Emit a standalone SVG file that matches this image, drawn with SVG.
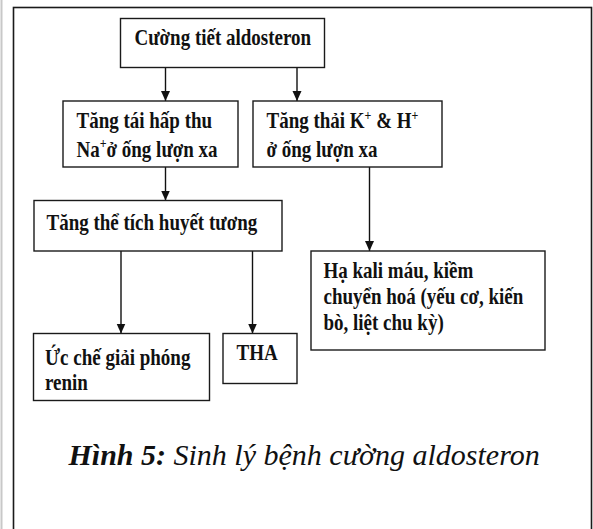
<svg xmlns="http://www.w3.org/2000/svg" width="593" height="529" viewBox="0 0 593 529">
<defs>
<style>
.bx{fill:#fff;stroke:#1a1a1a;stroke-width:1.4}
.t{font-family:"Liberation Serif","Times New Roman",serif;font-weight:bold;font-size:19px;fill:#111}
.sup{font-size:12px}
.cn{stroke:#111;stroke-width:1.4;fill:none;marker-end:url(#ah)}
.cap{font-family:"Liberation Serif","Times New Roman",serif;font-style:italic;font-size:30px;fill:#111}
</style>
<marker id="ah" markerUnits="userSpaceOnUse" markerWidth="10" markerHeight="10" refX="10" refY="4.5" orient="auto">
<path d="M0,0 L10,4.5 L0,9 z" fill="#111"/>
</marker>
</defs>
<rect x="0" y="0" width="593" height="529" fill="#fff"/>
<line x1="1.5" y1="0" x2="1.5" y2="529" stroke="#c8c8c8" stroke-width="2"/>
<rect x="13.5" y="7.5" width="578" height="540" fill="none" stroke="#1a1a1a" stroke-width="1.6"/>

<g id="connectors">
<line class="cn" x1="165.5" y1="67.5" x2="165.5" y2="101"/>
<line class="cn" x1="297" y1="67.5" x2="297" y2="101"/>
<line class="cn" x1="165.5" y1="167" x2="165.5" y2="200.5"/>
<line class="cn" x1="369.5" y1="167" x2="369.5" y2="251"/>
<line class="cn" x1="121" y1="251" x2="121" y2="333.5"/>
<line class="cn" x1="252.5" y1="251" x2="252.5" y2="333.5"/>
</g>

<g id="n1">
<rect class="bx" x="120.5" y="18.5" width="204" height="49"/>
<text class="t" transform="translate(134.5,45) scale(1,1.2)">Cường tiết aldosteron</text>
</g>
<g id="n2">
<rect class="bx" x="63" y="101" width="175" height="66"/>
<text class="t" transform="translate(76.5,128) scale(1,1.2)">Tăng tái hấp thu</text>
<text class="t" transform="translate(76.5,156.5) scale(1,1.2)">Na<tspan class="sup" dy="-7">+</tspan><tspan dy="7">ở ống lượn xa</tspan></text>
</g>
<g id="n3">
<rect class="bx" x="253" y="101" width="189" height="66"/>
<text class="t" transform="translate(266.5,128) scale(1,1.2)">Tăng thải K<tspan class="sup" dy="-7">+</tspan><tspan dy="7"> &amp; H</tspan><tspan class="sup" dy="-7">+</tspan></text>
<text class="t" transform="translate(266.5,156.5) scale(1,1.2)">ở ống lượn xa</text>
</g>
<g id="n4">
<rect class="bx" x="34" y="200.5" width="248" height="50.5"/>
<text class="t" transform="translate(46.5,230) scale(1,1.2)">Tăng thể tích huyết tương</text>
</g>
<g id="n5">
<rect class="bx" x="311" y="251" width="234" height="99"/>
<text class="t" transform="translate(323.5,277.5) scale(1,1.2)">Hạ kali máu, kiềm</text>
<text class="t" transform="translate(323.5,303.5) scale(1,1.2)">chuyển hoá (yếu cơ, kiến</text>
<text class="t" transform="translate(323.5,329.5) scale(1,1.2)">bò, liệt chu kỳ)</text>
</g>
<g id="n6">
<rect class="bx" x="33.5" y="333.5" width="176" height="67"/>
<text class="t" transform="translate(45,365) scale(1,1.2)">Ức chế giải phóng</text>
<text class="t" transform="translate(45,390) scale(1,1.2)">renin</text>
</g>
<g id="n7">
<rect class="bx" x="223" y="333.5" width="74" height="50"/>
<text class="t" transform="translate(236.5,360) scale(1,1.2)">THA</text>
</g>

<text class="cap" x="68.5" y="465"><tspan font-weight="bold">Hình 5:</tspan> Sinh lý bệnh cường aldosteron</text>
</svg>
